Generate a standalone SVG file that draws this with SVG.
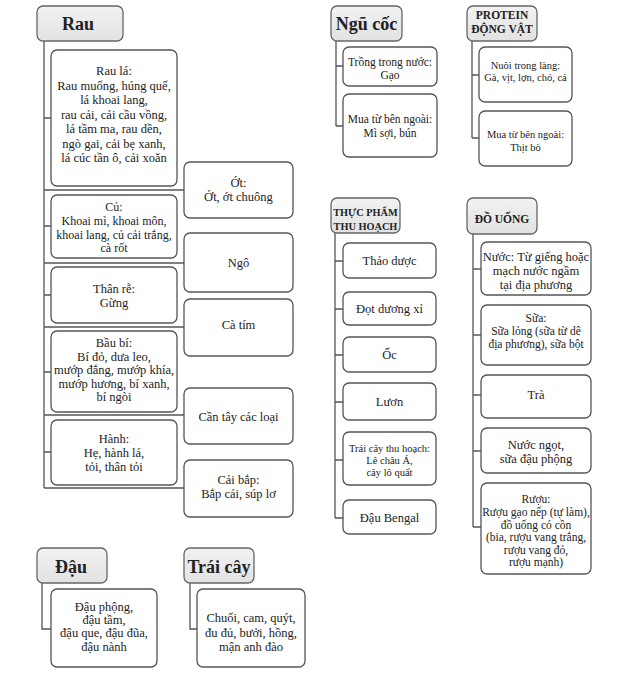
<svg xmlns="http://www.w3.org/2000/svg" width="634" height="680" viewBox="0 0 634 680">
<style>
.bg{fill:#ffffff}
.hd{fill:url(#hg);stroke:#666;stroke-width:1.3}
.bx{fill:#ffffff;stroke:#555;stroke-width:1.3}
.ln{fill:none;stroke:#555;stroke-width:1.3}
text{font-family:"Liberation Serif","DejaVu Serif",serif;fill:#222;text-anchor:middle}
.h1{font-size:18px;font-weight:bold}
.h2{font-size:11.5px;font-weight:bold}
.h3{font-size:10.3px;font-weight:bold}
.t{font-size:12.5px}
.m{font-size:12px}
.s{font-size:11.5px}
.xs{font-size:10.5px}
</style>
<defs>
<linearGradient id="hg" x1="0" y1="0" x2="0" y2="1">
<stop offset="0" stop-color="#f2f2f2"/>
<stop offset="1" stop-color="#e2e2e2"/>
</linearGradient>
</defs>
<rect class="bg" x="0" y="0" width="634" height="680"/>

<g id="connectors">
<path class="ln" d="M44,41V488 M44,118H51 M44,190H184 M44,226H51 M44,263H184 M44,295H51 M44,327H184 M44,372H51 M44,415H184 M44,452H51 M44,488H184"/>
<path class="ln" d="M336,41V126 M336,66H343 M336,126H343"/>
<path class="ln" d="M472,41V138 M472,75H479 M472,138H479"/>
<path class="ln" d="M335,233V518 M335,261H343 M335,309H343 M335,355H343 M335,402H343 M335,460H343 M335,518H343"/>
<path class="ln" d="M473,234V527 M473,269H481 M473,335H481 M473,395H481 M473,451H481 M473,527H481"/>
<path class="ln" d="M42,583V629H51"/>
<path class="ln" d="M190,583V629H197"/>
</g>

<g id="rau">
<rect class="hd" x="37" y="6" width="86" height="35" rx="6"/>
<text class="h1" x="78" y="30">Rau</text>
</g>
<g id="rau-la">
<rect class="bx" x="51" y="50" width="126" height="136" rx="6"/>
<text class="t" x="114" y="75">Rau lá:</text>
<text class="t" x="114" y="89.5">Rau muống, húng quế,</text>
<text class="t" x="114" y="104">lá khoai lang,</text>
<text class="t" x="114" y="118.5">rau cải, cải cầu vồng,</text>
<text class="t" x="114" y="133">lá tầm ma, rau dền,</text>
<text class="t" x="114" y="147.5">ngò gai, cải bẹ xanh,</text>
<text class="t" x="114" y="162">lá cúc tần ô, cải xoăn</text>
</g>
<g id="cu">
<rect class="bx" x="51" y="195" width="126" height="63" rx="6"/>
<text class="m" x="114" y="211">Củ:</text>
<text class="m" x="114" y="225">Khoai mì, khoai môn,</text>
<text class="m" x="114" y="239">khoai lang, củ cải trắng,</text>
<text class="m" x="114" y="252">cà rốt</text>
</g>
<g id="than-re">
<rect class="bx" x="51" y="267" width="126" height="56" rx="6"/>
<text class="t" x="114" y="293">Thân rễ:</text>
<text class="t" x="114" y="307">Gừng</text>
</g>
<g id="bau-bi">
<rect class="bx" x="51" y="331" width="126" height="81" rx="6"/>
<text class="t" x="114" y="347">Bầu bí:</text>
<text class="t" x="114" y="360.5">Bí đỏ, dưa leo,</text>
<text class="t" x="114" y="374">mướp đắng, mướp khía,</text>
<text class="t" x="114" y="387.5">mướp hương, bí xanh,</text>
<text class="t" x="114" y="401">bí ngòi</text>
</g>
<g id="hanh">
<rect class="bx" x="51" y="420" width="126" height="65" rx="6"/>
<text class="t" x="114" y="443">Hành:</text>
<text class="t" x="114" y="457">Hẹ, hành lá,</text>
<text class="t" x="114" y="471">tỏi, thân tỏi</text>
</g>
<g id="ot">
<rect class="bx" x="184" y="162" width="109" height="56" rx="6"/>
<text class="t" x="238.5" y="187">Ớt:</text>
<text class="t" x="238.5" y="201">Ớt, ớt chuông</text>
</g>
<g id="ngo">
<rect class="bx" x="184" y="233" width="109" height="59" rx="6"/>
<text class="t" x="238.5" y="267">Ngô</text>
</g>
<g id="ca-tim">
<rect class="bx" x="184" y="299" width="109" height="57" rx="6"/>
<text class="t" x="238.5" y="329">Cà tím</text>
</g>
<g id="can-tay">
<rect class="bx" x="184" y="388" width="109" height="56" rx="6"/>
<text class="t" x="238.5" y="421">Cần tây các loại</text>
</g>
<g id="cai-bap">
<rect class="bx" x="184" y="460" width="109" height="57" rx="6"/>
<text class="t" x="238.5" y="484">Cải bắp:</text>
<text class="t" x="238.5" y="498">Bắp cải, súp lơ</text>
</g>

<g id="ngu-coc">
<rect class="hd" x="331" y="6" width="71" height="35" rx="6"/>
<text class="h1" x="366.5" y="30">Ngũ cốc</text>
</g>
<g id="trong-trong-nuoc">
<rect class="bx" x="343" y="47" width="94" height="39" rx="6"/>
<text class="s" x="390" y="66">Trồng trong nước:</text>
<text class="s" x="390" y="79">Gạo</text>
</g>
<g id="mua-ngu-coc">
<rect class="bx" x="343" y="94" width="94" height="63" rx="6"/>
<text class="s" x="390" y="123">Mua từ bên ngoài:</text>
<text class="s" x="390" y="137">Mì sợi, bún</text>
</g>

<g id="protein">
<rect class="hd" x="467" y="6" width="70" height="35" rx="6"/>
<text class="h2" x="502" y="19">PROTEIN</text>
<text class="h2" x="502" y="33">ĐỘNG VẬT</text>
</g>
<g id="nuoi-trong-lang">
<rect class="bx" x="479" y="47" width="93" height="55" rx="6"/>
<text class="xs" x="525.5" y="69">Nuôi trong làng:</text>
<text class="xs" x="525.5" y="81">Gà, vịt, lợn, chó, cá</text>
</g>
<g id="mua-protein">
<rect class="bx" x="479" y="111" width="93" height="55" rx="6"/>
<text class="xs" x="525.5" y="138">Mua từ bên ngoài:</text>
<text class="xs" x="525.5" y="151">Thịt bò</text>
</g>

<g id="thuc-pham-thu-hoach">
<rect class="hd" x="331" y="198" width="69" height="35" rx="6"/>
<text class="h3" x="365.5" y="216">THỰC PHẨM</text>
<text class="h3" x="365.5" y="230">THU HOẠCH</text>
</g>
<g id="thao-duoc">
<rect class="bx" x="343" y="243" width="93" height="35" rx="6"/>
<text class="t" x="389.5" y="265">Thảo dược</text>
</g>
<g id="dot-duong-xi">
<rect class="bx" x="343" y="292" width="93" height="33" rx="6"/>
<text class="t" x="389.5" y="313">Đọt dương xỉ</text>
</g>
<g id="oc">
<rect class="bx" x="343" y="337" width="93" height="35" rx="6"/>
<text class="t" x="389.5" y="359">Ốc</text>
</g>
<g id="luon">
<rect class="bx" x="343" y="383" width="93" height="37" rx="6"/>
<text class="t" x="389.5" y="406">Lươn</text>
</g>
<g id="trai-cay-thu-hoach">
<rect class="bx" x="343" y="432" width="93" height="53" rx="6"/>
<text class="xs" x="389.5" y="451.5">Trái cây thu hoạch:</text>
<text class="xs" x="389.5" y="463.5">Lê châu Á,</text>
<text class="xs" x="389.5" y="475.5">cây lô quất</text>
</g>
<g id="dau-bengal">
<rect class="bx" x="343" y="500" width="93" height="34" rx="6"/>
<text class="t" x="389.5" y="522">Đậu Bengal</text>
</g>

<g id="do-uong">
<rect class="hd" x="467" y="198" width="70" height="36" rx="6"/>
<text class="h2" x="502" y="223">ĐỒ UỐNG</text>
</g>
<g id="nuoc">
<rect class="bx" x="481" y="242" width="110" height="53" rx="6"/>
<text class="t" x="536" y="261">Nước: Từ giếng hoặc</text>
<text class="t" x="536" y="275">mạch nước ngầm</text>
<text class="t" x="536" y="289">tại địa phương</text>
</g>
<g id="sua">
<rect class="bx" x="481" y="305" width="110" height="60" rx="6"/>
<text class="s" x="536" y="322">Sữa:</text>
<text class="s" x="536" y="335">Sữa lỏng (sữa từ dê</text>
<text class="s" x="536" y="348">địa phương), sữa bột</text>
</g>
<g id="tra">
<rect class="bx" x="481" y="375" width="110" height="43" rx="6"/>
<text class="t" x="536" y="399">Trà</text>
</g>
<g id="nuoc-ngot">
<rect class="bx" x="481" y="428" width="110" height="45" rx="6"/>
<text class="t" x="536" y="449">Nước ngọt,</text>
<text class="t" x="536" y="463">sữa đậu phộng</text>
</g>
<g id="ruou">
<rect class="bx" x="481" y="483" width="110" height="91" rx="6"/>
<text class="s" x="536" y="503">Rượu:</text>
<text class="s" x="536" y="516">Rượu gạo nếp (tự làm),</text>
<text class="s" x="536" y="528.5">đồ uống có cồn</text>
<text class="s" x="536" y="541">(bia, rượu vang trắng,</text>
<text class="s" x="536" y="553.5">rượu vang đỏ,</text>
<text class="s" x="536" y="566">rượu mạnh)</text>
</g>

<g id="dau">
<rect class="hd" x="37" y="548" width="70" height="35" rx="6"/>
<text class="h1" x="71" y="573">Đậu</text>
</g>
<g id="dau-list">
<rect class="bx" x="51" y="589" width="106" height="78" rx="6"/>
<text class="t" x="104" y="611">Đậu phộng,</text>
<text class="t" x="104" y="624">đậu tầm,</text>
<text class="t" x="104" y="637">đậu que, đậu đũa,</text>
<text class="t" x="104" y="651">đậu nành</text>
</g>

<g id="trai-cay">
<rect class="hd" x="184" y="548" width="70" height="35" rx="6"/>
<text class="h1" x="219" y="573">Trái cây</text>
</g>
<g id="trai-cay-list">
<rect class="bx" x="197" y="589" width="108" height="78" rx="6"/>
<text class="t" x="251" y="622">Chuối, cam, quýt,</text>
<text class="t" x="251" y="637">đu đủ, bưởi, hồng,</text>
<text class="t" x="251" y="651">mận anh đào</text>
</g>
</svg>
